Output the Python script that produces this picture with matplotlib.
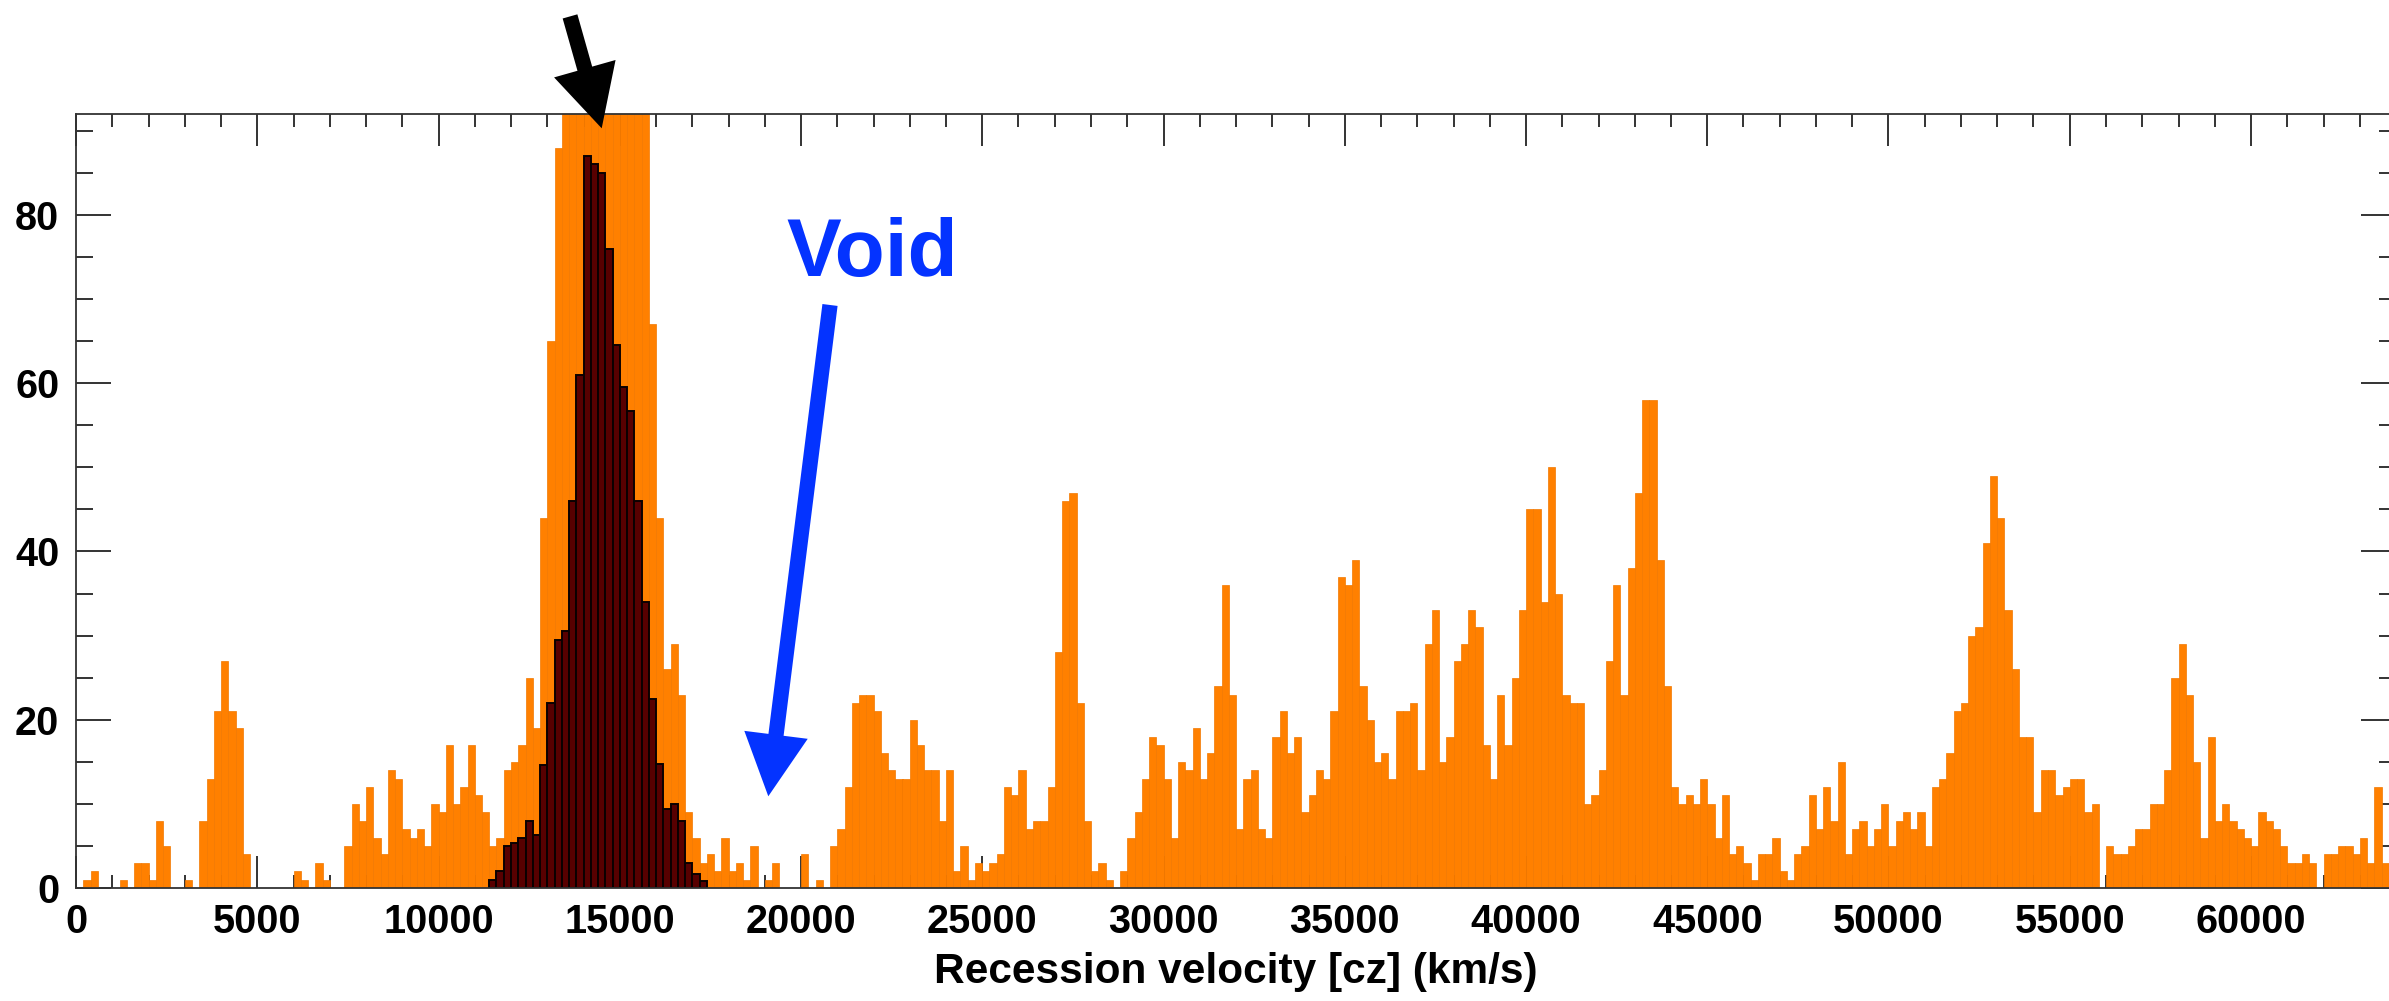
import numpy as np
import matplotlib
matplotlib.use("Agg")
import matplotlib.pyplot as plt
from matplotlib.patches import ArrowStyle
from matplotlib.ticker import MultipleLocator, FuncFormatter

# ---------------- data ----------------
bin_width = 200  # km/s
# full sample, 200 km/s bins starting at 0 km/s (bins 13400-15800 are clipped in the original)
counts_all = [
    0, 1, 2, 0, 0, 0, 1, 0, 3, 3,
    1, 8, 5, 0, 0, 1, 0, 8, 13, 21,
    27, 21, 19, 4, 0, 0, 0, 0, 0, 0,
    2, 1, 0, 3, 1, 0, 0, 5, 10, 8,
    12, 6, 4, 14, 13, 7, 6, 7, 5, 10,
    9, 17, 10, 12, 17, 11, 9, 5, 6, 14,
    15, 17, 25, 19, 44, 65, 88, 98, 112, 127,
    141, 150, 153, 149, 138, 124, 110, 97, 93, 67,
    44, 26, 29, 23, 9, 6, 3, 4, 2, 6,
    2, 3, 1, 5, 0, 1, 3, 0, 0, 0,
    4, 0, 1, 0, 5, 7, 12, 22, 23, 23,
    21, 16, 14, 13, 13, 20, 17, 14, 14, 8,
    14, 2, 5, 1, 3, 2, 3, 4, 12, 11,
    14, 7, 8, 8, 12, 28, 46, 47, 22, 8,
    2, 3, 1, 0, 2, 6, 9, 13, 18, 17,
    13, 6, 15, 14, 19, 13, 16, 24, 36, 23,
    7, 13, 14, 7, 6, 18, 21, 16, 18, 9,
    11, 14, 13, 21, 37, 36, 39, 24, 20, 15,
    16, 13, 21, 21, 22, 14, 29, 33, 15, 18,
    27, 29, 33, 31, 17, 13, 23, 17, 25, 33,
    45, 45, 34, 50, 35, 23, 22, 22, 10, 11,
    14, 27, 36, 23, 38, 47, 58, 58, 39, 24,
    12, 10, 11, 10, 13, 10, 6, 11, 4, 5,
    3, 1, 4, 4, 6, 2, 1, 4, 5, 11,
    7, 12, 8, 15, 4, 7, 8, 5, 7, 10,
    5, 8, 9, 7, 9, 5, 12, 13, 16, 21,
    22, 30, 31, 41, 49, 44, 33, 26, 18, 18,
    9, 14, 14, 11, 12, 13, 13, 9, 10, 0,
    5, 4, 4, 5, 7, 7, 10, 10, 14, 25,
    29, 23, 15, 6, 18, 8, 10, 8, 7, 6,
    5, 9, 8, 7, 5, 3, 3, 4, 3, 0,
    4, 4, 5, 5, 4, 6, 3, 12, 3, 3,
]
# cluster members (dark histogram), 200 km/s bins starting at 11400 km/s
cluster_start = 11400
counts_cluster = [
    1, 2, 5, 5.3, 6, 8, 6.3, 14.6, 22, 29.5,
    30.5, 46, 61, 87, 86, 85, 76, 64.5, 59.5, 56.7,
    46, 34, 22.5, 14.7, 9.4, 10, 8, 3, 1.7, 0.8,
]
x_label = "Recession velocity [cz] (km/s)"
void_label = "Void"

# ---------------- figure ----------------
plt.rcParams["font.family"] = ["Liberation Sans", "DejaVu Sans"]
W, H, DPI = 2389, 1001, 100
fig = plt.figure(figsize=(W / DPI, H / DPI), dpi=DPI)
ax = fig.add_axes([76 / W, (H - 888) / H, 2320 / W, (888 - 114) / H])

left_all = np.arange(len(counts_all)) * bin_width
ax.bar(left_all, counts_all, width=bin_width, align="edge",
       color="#ff8000", edgecolor="#f27800", linewidth=0.5, zorder=2)

left_cl = cluster_start + np.arange(len(counts_cluster)) * bin_width
ax.bar(left_cl, counts_cluster, width=bin_width, align="edge",
       color="#580000", edgecolor="#0a0000", linewidth=1.4, zorder=3)

ax.set_xlim(0, 64000)
ax.set_ylim(0, 92)

frame_col = "#333333"
for s in ax.spines.values():
    s.set_color(frame_col)
    s.set_linewidth(1.3)
    s.set_zorder(5)

ax.xaxis.set_major_locator(MultipleLocator(5000))
ax.xaxis.set_minor_locator(MultipleLocator(1000))
ax.yaxis.set_major_locator(MultipleLocator(20))
ax.yaxis.set_minor_locator(MultipleLocator(5))
ax.xaxis.set_major_formatter(FuncFormatter(lambda v, p: "%d" % v))
ax.yaxis.set_major_formatter(FuncFormatter(lambda v, p: "%d" % v))

ax.tick_params(axis="x", which="major", direction="in", top=True, bottom=True,
               length=23, width=1.4, color=frame_col, pad=11,
               labelsize=28.5)
ax.tick_params(axis="x", which="minor", direction="in", top=True, bottom=True,
               length=9.5, width=1.4, color=frame_col)
ax.tick_params(axis="y", which="major", direction="in", left=True, right=True,
               length=25, width=1.4, color=frame_col, pad=12,
               labelsize=28.5)
ax.tick_params(axis="y", which="minor", direction="in", left=True, right=True,
               length=12, width=1.4, color=frame_col)
for lab in ax.get_xticklabels() + ax.get_yticklabels():
    lab.set_fontweight("bold")

ax.set_xlabel(x_label, fontsize=30.5, fontweight="bold", labelpad=8)

# ---------------- annotations ----------------
arrow_style = ArrowStyle.Simple(head_length=44.6, head_width=46, tail_width=11)
ax.annotate("", xy=(14502, 90.3), xytext=(13628, 103.6), xycoords="data",
            textcoords="data", annotation_clip=False,
            arrowprops=dict(arrowstyle=arrow_style, mutation_scale=1,
                            fc="black", ec="none", lw=0,
                            shrinkA=0, shrinkB=0), zorder=6)
ax.annotate("", xy=(19098, 10.9), xytext=(20800, 69.3), xycoords="data",
            textcoords="data", annotation_clip=False,
            arrowprops=dict(arrowstyle=arrow_style, mutation_scale=1,
                            fc="#0433ff", ec="none", lw=0,
                            shrinkA=0, shrinkB=0), zorder=6)
ax.text(19586, 72.8, void_label, color="#0433ff", fontsize=59,
        fontweight="bold", ha="left", va="baseline", zorder=6)

fig.savefig("out.png", dpi=DPI)
